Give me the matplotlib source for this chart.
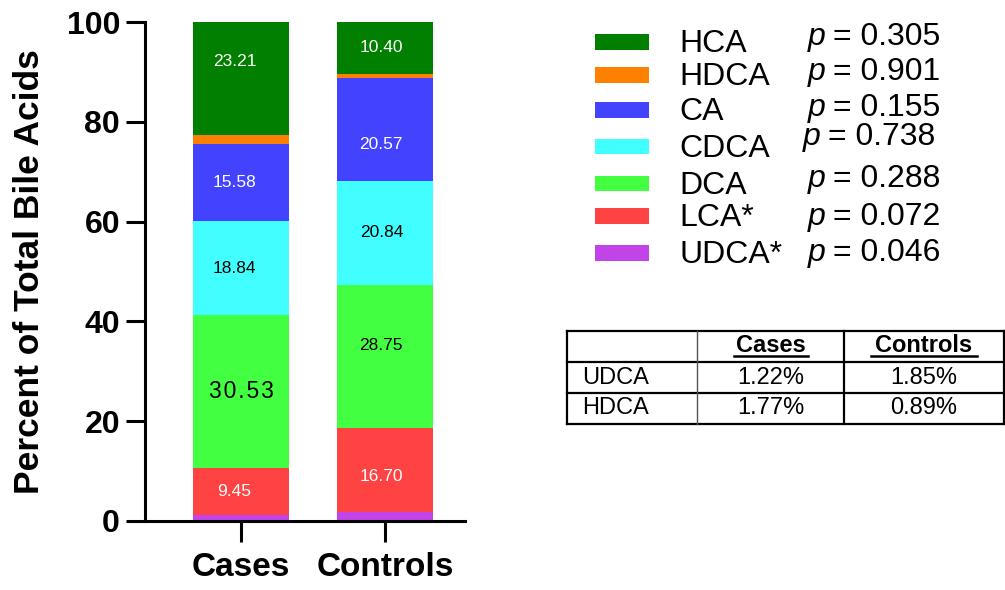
import matplotlib
matplotlib.use("Agg")
import matplotlib.pyplot as plt
from matplotlib.patches import Rectangle
from matplotlib.lines import Line2D
import numpy as np

plt.rcParams["font.family"] = ["Liberation Sans", "DejaVu Sans"]

groups = ["Cases", "Controls"]
# stacked bottom -> top
acids = ["UDCA", "LCA", "DCA", "CDCA", "CA", "HDCA", "HCA"]
cases = [1.22, 9.45, 30.53, 18.84, 15.58, 1.77, 23.21]
controls = [1.85, 16.70, 28.75, 20.84, 20.57, 0.89, 10.40]
colors = ["#C244E8", "#FF4242", "#42FF42", "#42FFFF", "#4242FF", "#FF8000", "#007F00"]

legend_names = ["UDCA*", "LCA*", "DCA", "CDCA", "CA", "HDCA", "HCA"]
p_values = ["0.046", "0.072", "0.288", "0.738", "0.155", "0.901", "0.305"]

table_cols = ["Cases", "Controls"]
table_rows = ["UDCA", "HDCA"]
table_vals = [["1.22%", "1.85%"], ["1.77%", "0.89%"]]

W, H = 1005, 590
fig = plt.figure(figsize=(W / 100, H / 100), dpi=100)


def fx(x):
    return x / W


def fy(y):
    return 1 - y / H


ax = fig.add_axes([fx(145), fy(521), fx(465) - fx(145), fy(22) - fy(521)])

x = np.arange(len(groups))
width = 0.667
data = np.array([cases, controls])
bottoms = np.zeros(len(groups))
# labelled segments: which index gets a label, and its text colour
label_style = {1: "white", 2: "black", 3: "black", 4: "white", 6: "white"}
# small hand nudges of individual labels (data units)
nudge = {(0, 6): 3.0, (1, 4): -3.0, (1, 2): 2.2, (1, 1): -1.2}
x_shift = [-0.045, -0.025]
for i, acid in enumerate(acids):
    vals = data[:, i]
    ax.bar(x, vals, width, bottom=bottoms, color=colors[i], linewidth=0, zorder=2)
    if i in label_style:
        for g in range(len(groups)):
            yc = bottoms[g] + vals[g] / 2 + nudge.get((g, i), 0)
            txt = f"{vals[g]:.2f}"
            if g == 0 and i == 2:
                ax.text(x[g], yc, "\u200a".join(txt), ha="center", va="center",
                        fontsize=16.5, color=label_style[i], zorder=3)
            else:
                ax.text(x[g] + x_shift[g], yc, txt, ha="center", va="center",
                        fontsize=12.5, color=label_style[i], zorder=3)
    bottoms += vals

ax.set_xlim(-0.667, 1.556)
ax.set_ylim(0, 100)
ax.set_yticks([0, 20, 40, 60, 80, 100])
ax.set_xticks(x)
ax.set_xticklabels(groups, fontsize=24, fontweight="bold")
ax.tick_params(axis="y", labelsize=23, width=2.2, length=14, pad=4)
ax.tick_params(axis="x", width=2.2, length=15, pad=7.5)
for lbl in ax.get_yticklabels():
    lbl.set_fontweight("bold")
ax.spines["top"].set_visible(False)
ax.spines["right"].set_visible(False)
ax.spines["left"].set_linewidth(2.2)
ax.spines["bottom"].set_linewidth(2.2)
ax.set_ylabel("Percent of Total Bile Acids", fontsize=25.5, fontweight="bold")
ax.yaxis.set_label_coords(-0.31, 0.5)

# legend with p-values, drawn top (HCA) to bottom (UDCA)
row_y = [253, 216, 184, 147, 110, 75, 42]
p_dx = [0, 0, 0, -5, 0, 0, 0]
p_dy = [0, 1, -5, -10, -2, -3, -5]
for i in range(len(acids)):
    yc = row_y[i]
    fig.patches.append(Rectangle((fx(595), fy(yc + 7.5)), fx(54), 15 / H,
                                 transform=fig.transFigure, color=colors[i], linewidth=0))
    fig.text(fx(679), fy(yc + 2), legend_names[i], fontsize=23, va="center", ha="left")
    fig.text(fx(808 + p_dx[i]), fy(yc + p_dy[i]), "p", fontsize=23, va="center",
             ha="left", style="italic")
    fig.text(fx(833 + p_dx[i]), fy(yc + p_dy[i]), f"= {p_values[i]}", fontsize=23,
             va="center", ha="left")

# summary table of minor acids
tx = [567, 697, 844, 1004]
ty = [331, 362, 393, 424]
for yy in ty:
    fig.add_artist(Line2D([fx(tx[0]), fx(tx[-1])], [fy(yy), fy(yy)], color="black", lw=1.6))
for k, xx in enumerate(tx):
    fig.add_artist(Line2D([fx(xx), fx(xx)], [fy(ty[0]), fy(ty[-1])],
                          color="#555555" if k == 1 else "black", lw=1.0 if k == 1 else 1.6))
head_half = [37, 53]
for j, col in enumerate(table_cols):
    cx = (tx[j + 1] + tx[j + 2]) / 2
    fig.text(fx(cx), fy(346), col, fontsize=17, fontweight="bold", ha="center", va="center")
    fig.add_artist(Line2D([fx(cx - head_half[j]), fx(cx + head_half[j])], [fy(356), fy(356)],
                          color="black", lw=1.8))
for r, name in enumerate(table_rows):
    cy = (ty[r + 1] + ty[r + 2]) / 2
    fig.text(fx(582), fy(cy), name, fontsize=17, ha="left", va="center")
    for j in range(len(table_cols)):
        cx = (tx[j + 1] + tx[j + 2]) / 2
        fig.text(fx(cx), fy(cy), table_vals[r][j], fontsize=17, ha="center", va="center")

fig.savefig("out.png", dpi=100)
